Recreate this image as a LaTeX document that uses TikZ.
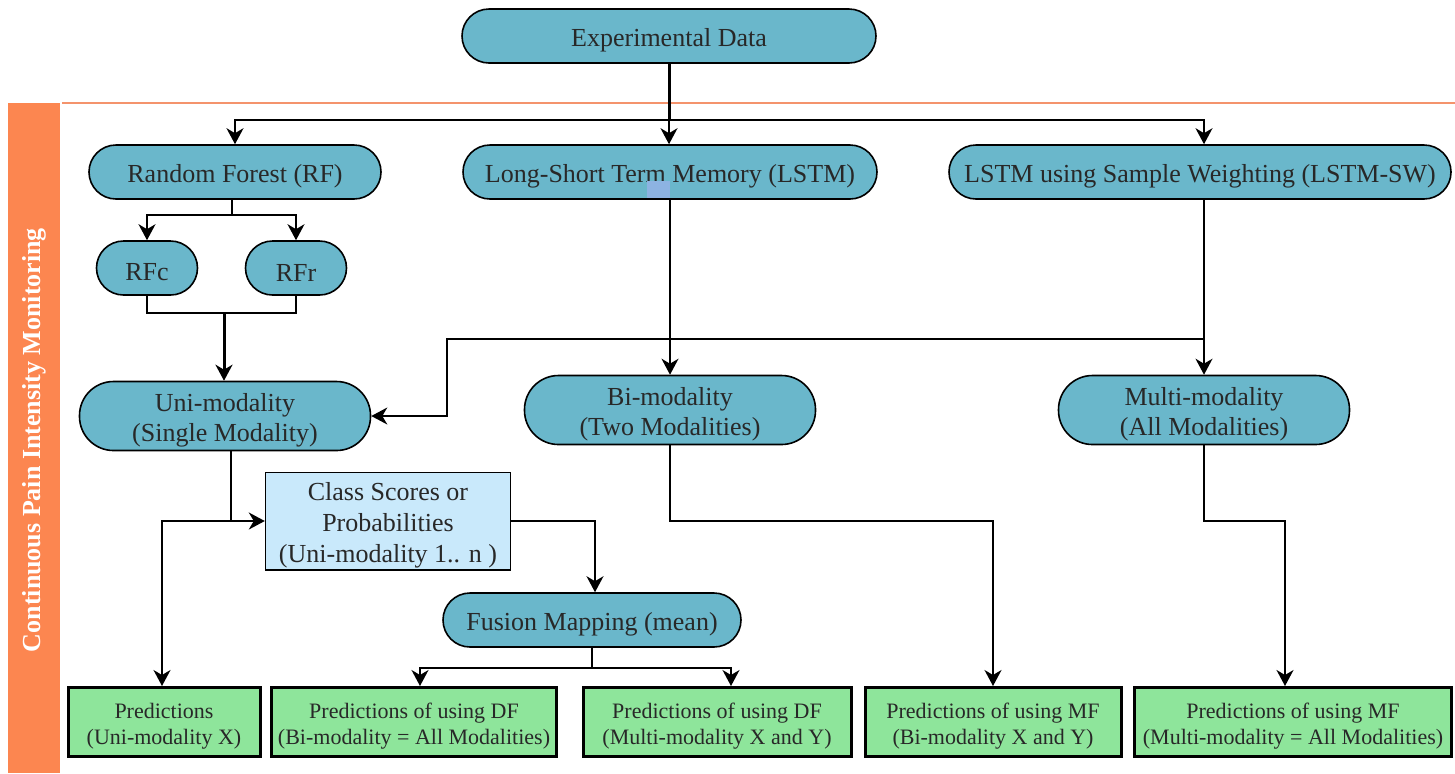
\documentclass[tikz,border=0pt]{standalone}
\usepackage{fontspec}
\setmainfont{Liberation Serif}
\usetikzlibrary{arrows.meta}
\definecolor{capblue}{RGB}{106,183,203}
\definecolor{clsblue}{RGB}{201,233,251}
\definecolor{predgreen}{RGB}{142,229,155}
\definecolor{bandorange}{RGB}{252,134,80}
\definecolor{lineorange}{RGB}{244,147,108}
\definecolor{markblue}{RGB}{141,179,226}
\definecolor{txtgray}{RGB}{40,40,40}
\newcommand\hilift{\rule{0pt}{13pt}}
\newcommand\lolift{\rule{0pt}{11.5pt}}

\begin{document}
\begin{tikzpicture}[x=0.5pt,y=0.5pt,yscale=-1,xscale=1,
    capsule/.style={draw=black, line width=0.8pt, fill=capblue, rounded corners=13.5pt, minimum height=27pt, inner sep=1pt, text=txtgray, font=\fontsize{13}{15}\selectfont, align=center},
    capsule2/.style={capsule, rounded corners=17pt, minimum height=34.5pt},
    predbox/.style={draw=black, line width=1.5pt, fill=predgreen, minimum height=34.5pt, inner sep=1pt, text=txtgray, font=\fontsize{11}{13}\selectfont, align=center},
    arr/.style={-{Stealth[length=8pt,width=8.5pt,inset=2.5pt]}, line width=0.9pt},
    thickarr/.style={arr, line width=1.5pt}]
    \useasboundingbox (0,0) rectangle (1455,773);

    %Shape: Band [id:band]
    \fill [bandorange] (8,103) rectangle (60,773);
    \draw [lineorange, line width=1pt] (62,103) -- (1455,103);
    % Text Node
    \node [rotate=90, text=white, font=\bfseries\fontsize{13}{15}\selectfont] (title) at (34,440) {Continuous Pain Intensity Monitoring};

    % Text Node
    \node [capsule, minimum width=207pt] (exp) at (669,36) {\hilift Experimental Data};
    % Text Node
    \node [capsule, minimum width=146pt] (rf) at (235,172) {\hilift Random Forest (RF)};
    % Text Node
    \node [capsule, minimum width=207pt] (lstm) at (670,172) {\hilift Long-Short Term Memory (LSTM)};
    %Shape: Rectangle [id:mark]
    \fill [markblue] (647,181) rectangle (670,198);
    % Text Node
    \node [capsule, minimum width=251pt] (lstmsw) at (1200,172) {\hilift LSTM using Sample Weighting (LSTM-SW)};
    % Text Node
    \node [capsule, minimum width=50.5pt] (rfc) at (147,268) {\hilift RFc};
    % Text Node
    \node [capsule, minimum width=50.5pt] (rfr) at (296,268) {\hilift RFr};
    % Text Node
    \node [capsule2, minimum width=145.5pt] (uni) at (225,416) {\hilift Uni-modality\\(Single Modality)};
    % Text Node
    \node [capsule2, minimum width=145.5pt] (bi) at (670,410) {\hilift Bi-modality\\(Two Modalities)};
    % Text Node
    \node [capsule2, minimum width=145.5pt] (multi) at (1204,410) {\hilift Multi-modality\\(All Modalities)};
    % Text Node
    \node [draw=black, line width=0.7pt, fill=clsblue, minimum width=122.5pt, minimum height=47.5pt, inner sep=1pt, text=txtgray, font=\fontsize{13}{15.5}\selectfont, align=center] (cls) at (388,521) {\hilift Class Scores or\\Probabilities\\(Uni-modality 1.. n )};
    % Text Node
    \node [capsule, minimum width=149pt] (fus) at (592,620) {\hilift Fusion Mapping (mean)};

    % Text Node
    \node [predbox, minimum width=96pt] (p1) at (164,722) {\lolift Predictions\\(Uni-modality X)};
    % Text Node
    \node [predbox, minimum width=142.5pt] (p2) at (414,722) {\lolift Predictions of using DF\\(Bi-modality = All Modalities)};
    % Text Node
    \node [predbox, minimum width=134pt] (p3) at (717,722) {\lolift Predictions of using DF\\(Multi-modality X and Y)};
    % Text Node
    \node [predbox, minimum width=128pt] (p4) at (993,722) {\lolift Predictions of using MF\\(Bi-modality X and Y)};
    % Text Node
    \node [predbox, minimum width=158.5pt] (p5) at (1293,722) {\lolift Predictions of using MF\\(Multi-modality = All Modalities)};

    % split points
    \coordinate (top) at (669,120);
    \coordinate (rfsplit) at (232,215);
    \coordinate (rfjoin) at (224,313);
    \coordinate (swsplit) at (1204,339);
    \coordinate (bend) at (447,339);
    \coordinate (unisplit) at (231,521);
    \coordinate (unileft) at (162,521);
    \coordinate (fussplit) at (592,668);
    \coordinate (bimid) at (993,521);
    \coordinate (mumid) at (1285,521);

    %Straight Lines [id:top]
    \draw [line width=1.5pt] (exp.south) -- (top);
    \draw [arr] (top) -| (rf.north);
    \draw [arr] (top) -- (top |- lstm.north);
    \draw [arr] (top) -| (swsplit |- lstmsw.north);
    %Straight Lines [id:rf]
    \draw [line width=0.9pt] (rf.south -| rfsplit) -- (rfsplit);
    \draw [arr] (rfsplit) -| (rfc.north);
    \draw [arr] (rfsplit) -| (rfr.north);
    \draw [line width=0.9pt] (rfc.south) |- (rfjoin) -| (rfr.south);
    \draw [thickarr] (rfjoin) -- (rfjoin |- uni.north);
    %Straight Lines [id:lstm]
    \draw [arr] (lstm.south) -- (bi.north);
    \draw [arr] (swsplit |- lstmsw.south) -- (multi.north);
    \draw [arr] (swsplit) -- (bend) |- (uni.east);
    %Straight Lines [id:uni]
    \draw [line width=0.9pt] (uni.south -| unisplit) -- (unisplit);
    \draw [arr] (unisplit) -- (cls.west);
    \draw [arr] (unisplit) -- (unileft) -- (unileft |- p1.north);
    \draw [arr] (cls.east) -| ([xshift=1.5pt]fus.north);
    \draw [line width=0.9pt] (fus.south) -- (fussplit);
    \draw [arr] (fussplit) -| ([xshift=3pt]p2.north);
    \draw [arr] (fussplit) -| ([xshift=7pt]p3.north);
    %Straight Lines [id:bi]
    \draw [arr] (bi.south) |- (bimid) -- (p4.north);
    \draw [arr] (multi.south) |- (mumid) -- (mumid |- p5.north);

\end{tikzpicture}
\end{document}
